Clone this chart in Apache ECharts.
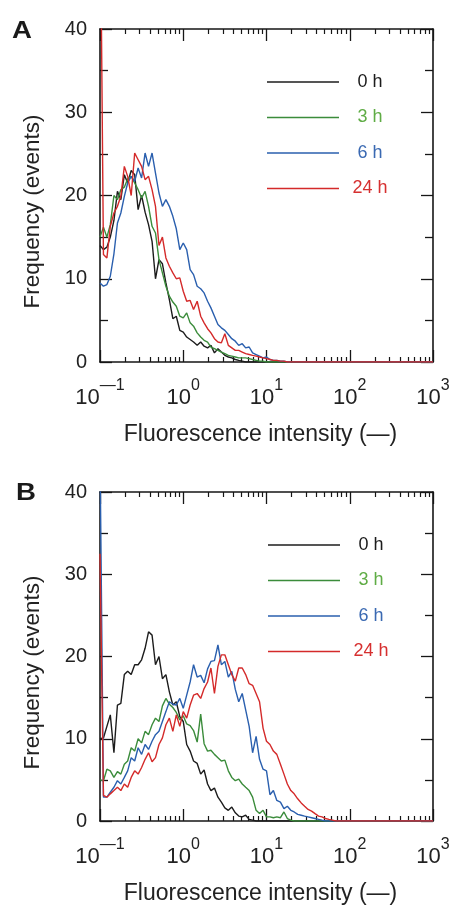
<!DOCTYPE html>
<html><head><meta charset="utf-8">
<script src="https://cdn.jsdelivr.net/npm/echarts@6/dist/echarts.min.js"></script>
<style>html,body{margin:0;padding:0;background:#fff}#c{width:453px;height:906px}</style>
</head><body><div id="c"></div>
<script>
// Bin centres (fluorescence intensity), shared by all histograms
const channels = [
  0.1, 0.110, 0.121, 0.133, 0.147, 0.162, 0.178, 0.196, 0.215, 0.237, 0.261, 0.287,
  0.316, 0.348, 0.383, 0.422, 0.464, 0.511, 0.562, 0.619, 0.681, 0.750, 0.825, 0.909,
  1, 1.10, 1.21, 1.33, 1.47, 1.62, 1.78, 1.96, 2.15, 2.37, 2.61, 2.87,
  3.16, 3.48, 3.83, 4.22, 4.64, 5.11, 5.62, 6.19, 6.81, 7.50, 8.25, 9.09,
  10, 11.0, 12.1, 13.3, 14.7, 16.2, 17.8, 19.6, 21.5, 23.7, 26.1, 28.7,
  31.6, 34.8, 38.3, 42.2, 46.4, 51.1, 56.2, 61.9, 68.1, 75.0, 82.5, 90.9,
  100, 1000
];
const seriesNames = ['0 h', '3 h', '6 h', '24 h'];
const lineColors = ['#1c1c1c', '#3b8c3b', '#2a5fae', '#d42a2a'];
const labelColors = ['#1c1c1c', '#5fac45', '#3a69b2', '#d63030'];
const panelLetters = ['A', 'B'];
const xTickExponents = [-1, 0, 1, 2, 3];
const yTicks = [0, 10, 20, 30, 40];
const xAxisTitle = 'Fluorescence intensity (—)';
const yAxisTitle = 'Frequency (events)';

// Panel A
const a0h = [14, 13.5, 13.8, 15, 17, 20.5, 19.5, 22.5, 21.5, 23, 22.5, 18.3,
  20, 18, 16.5, 14.5, 10, 12.3, 11.8, 9.5, 7.5, 5.2, 5.5, 3.8,
  3.6, 3.0, 2.7, 2.4, 2.0, 2.4, 1.9, 1.7, 2.0, 1.1, 1.6, 1.2,
  0.8, 0.6, 0.5, 0.3, 0.2, 0.1, 0, 0, 0, 0, 0, 0,
  0, 0, 0, 0, 0, 0, 0, 0, 0, 0, 0, 0,
  0, 0, 0, 0, 0, 0, 0, 0, 0, 0, 0, 0,
  0, 0];
const a3h = [15, 16.2, 15, 16.5, 20, 19.5, 20.7, 21, 22, 22.3, 21.5, 20.7,
  19.7, 20.5, 18.7, 16.3, 15.5, 12.3, 10.7, 9.1, 7.9, 7.2, 6.7, 5.5,
  5.3, 5.9, 4.7, 4.3, 3.5, 3.0, 2.6, 2.4, 1.8, 1.6, 1.4, 1.2,
  1.0, 0.8, 0.7, 0.6, 0.5, 0.5, 0.5, 0.4, 0.3, 0.2, 0.1, 0.1,
  0, 0, 0, 0, 0, 0, 0, 0, 0, 0, 0, 0,
  0, 0, 0, 0, 0, 0, 0, 0, 0, 0, 0, 0,
  0, 0];
const a6h = [9.5, 9.1, 9.3, 10.3, 13, 16.7, 17.9, 19.9, 21.5, 22.3, 21.7, 23.3,
  22.1, 25.1, 23.5, 25.1, 22.7, 20.3, 18.7, 19.5, 18.7, 17.5, 16, 13.5,
  14.3, 13.5, 11.1, 10.5, 9.1, 8.8, 8.3, 7.3, 6.5, 5.5, 4.5, 4.1,
  3.8, 3.3, 2.8, 2.5, 2.0, 2.2, 1.7, 1.8, 1.1, 0.9, 0.7, 0.5,
  0.6, 0.3, 0.2, 0.2, 0.1, 0.1, 0, 0, 0, 0, 0, 0,
  0, 0, 0, 0, 0, 0, 0, 0, 0, 0, 0, 0,
  0, 0];
const a24h = [60, 12.9, 12.5, 16.3, 17.9, 18.7, 19.9, 23.5, 22.3, 20, 25.1, 24.3,
  23.5, 21.9, 22.3, 20.7, 18.7, 14, 15, 12.5, 11.5, 10.7, 10, 10.1,
  8.5, 7.3, 7.4, 6.3, 7.3, 5.5, 4.7, 4.0, 3.5, 2.8, 2.4, 2.3,
  3.4, 2.0, 1.7, 1.4, 1.4, 1.2, 1.0, 0.9, 0.8, 0.7, 0.6, 0.5,
  0.4, 0.3, 0.2, 0.2, 0.1, 0.1, 0, 0, 0, 0, 0, 0,
  0, 0, 0, 0, 0, 0, 0, 0, 0, 0, 0, 0,
  0, 0];

// Panel B
const b0h = [10, 10.1, 11.5, 12.9, 8.3, 14.1, 14.3, 17.8, 18.2, 17.8, 19, 19,
  19.6, 21, 23, 22.6, 19, 20, 17.3, 17.8, 15.7, 14.1, 14.5, 12.7,
  12.1, 9.3, 8.5, 7.3, 7, 5.7, 6.2, 4.5, 3.7, 4.0, 2.9, 2.3,
  1.6, 1.3, 1.7, 1.0, 0.6, 0.5, 0.7, 0.2, 0.1, 0, 0, 0,
  0, 0, 0, 0, 0, 0, 0, 0, 0, 0, 0, 0,
  0, 0, 0, 0, 0, 0, 0, 0, 0, 0, 0, 0,
  0, 0];
const b3h = [5, 4.9, 6.3, 6.1, 5.3, 6, 5.7, 6.9, 7.3, 8.9, 8.5, 10,
  9.5, 10.9, 10.5, 11.7, 12.5, 12.1, 14, 14.9, 14.2, 13.8, 13.2, 12.3,
  12.8, 11.8, 11.6, 11, 9.6, 13.0, 9.4, 8.5, 8.6, 8.1, 7.7, 7.3,
  7.4, 6.1, 5.3, 4.9, 5.1, 4.5, 4.1, 3.7, 2.9, 1.3, 0.9, 1.3,
  0.5, 0.5, 0.4, 0.5, 0.4, 1.1, 0.3, 0.1, 0, 0, 0, 0,
  0, 0, 0, 0, 0, 0, 0, 0, 0, 0, 0, 0,
  0, 0];
const b6h = [45, 2.9, 2.9, 3.5, 4.1, 4.9, 4.5, 5.3, 6.1, 7.7, 7.3, 8.9,
  8.1, 9.3, 8.7, 9.7, 10.5, 10.9, 12.1, 13.3, 14.5, 14.2, 14.1, 14.9,
  13.7, 15.3, 16.9, 19, 17.5, 17.7, 16.8, 18.5, 19.4, 19.5, 21.4, 19,
  19.4, 17.5, 18.2, 16, 14.5, 15.5, 13.5, 11.5, 8.3, 10.3, 7.5, 6.3,
  6.1, 3.2, 3.7, 2.5, 2.3, 1.5, 1.8, 1.3, 1.1, 0.8, 0.7, 0.6,
  0.5, 0.4, 0.3, 0.2, 0.1, 0, 0, 0, 0, 0, 0, 0,
  0, 0];
const b24h = [32.5, 3.1, 2.9, 3.3, 3.7, 4.1, 3.7, 4.5, 4.1, 5.3, 6.1, 5.7,
  6.5, 7.5, 8.3, 7.2, 7.7, 9.3, 10.1, 11.7, 12.5, 10.9, 12.9, 11.5,
  13.3, 12.5, 14.1, 15.3, 15.5, 14.9, 16.1, 16.9, 18.6, 15.5, 18.8, 20.2,
  20.2, 19, 17.8, 17, 18.6, 18.6, 17.8, 16.7, 16.5, 15.5, 14.5, 11.3,
  9.7, 9.3, 8.5, 8.1, 6.9, 5.7, 4.5, 3.7, 3.3, 2.7, 2.2, 1.8,
  1.4, 1.2, 0.9, 0.6, 0.5, 0.3, 0.2, 0.1, 0, 0, 0, 0,
  0, 0];

const panels = [[a0h, a3h, a6h, a24h], [b0h, b3h, b6h, b24h]];

const FONT = '"Liberation Sans", Arial, Helvetica, sans-serif';
const AX = '#161616';
const grids = [
  { left: 100, top: 29, width: 333, height: 333 },
  { left: 100, top: 492, width: 333, height: 332 }
];
const legendPos = [{ left: 267, top: 73 }, { left: 268, top: 536 }];
const letterPos = [{ x: 12, y: 20 }, { x: 16, y: 482 }];

// minor tick positions on the log axis (log10 space)
const minorVals = [];
for (let e = -1; e < 3; e++) for (let m = 2; m <= 9; m++) minorVals.push(Math.log10(m) + e);

const xAxes = [], yAxes = [], series = [], legends = [], graphics = [];
panels.forEach((panel, g) => {
  const base = { type: 'value', gridIndex: g, min: -1, max: 3, interval: 1, splitLine: { show: false } };
  xAxes.push(Object.assign({}, base, {
    position: 'bottom',
    axisLine: { show: true, onZero: false, lineStyle: { color: AX, width: 1.6 } },
    axisTick: { show: true, inside: true, length: 12, lineStyle: { color: AX, width: 1.3 } },
    axisLabel: {
      margin: 16, color: '#222', fontFamily: FONT,
      formatter: v => { const e = Math.round(v); return '{b|10}{s|' + (e < 0 ? '—' + (-e) : e) + '}'; },
      rich: {
        b: { fontSize: 22, fontFamily: FONT, color: '#222', padding: [9, 0, 0, 0] },
        s: { fontSize: 16, fontFamily: FONT, color: '#222', verticalAlign: 'top' }
      }
    },
    name: xAxisTitle, nameLocation: 'middle', nameGap: 61,
    nameTextStyle: { fontSize: 23, fontFamily: FONT, color: '#222', padding: [0, 12, 0, 0] }
  }));
  xAxes.push(Object.assign({}, base, {
    position: 'bottom', axisLine: { show: false, onZero: false }, axisLabel: { show: false },
    axisTick: { show: true, inside: true, length: 5, customValues: minorVals, lineStyle: { color: AX, width: 1.2 } }
  }));
  xAxes.push(Object.assign({}, base, {
    position: 'top', axisLine: { show: true, onZero: false, lineStyle: { color: AX, width: 1.6 } }, axisLabel: { show: false },
    axisTick: { show: true, inside: true, length: 12, lineStyle: { color: AX, width: 1.3 } }
  }));
  xAxes.push(Object.assign({}, base, {
    position: 'top', axisLine: { show: false, onZero: false }, axisLabel: { show: false },
    axisTick: { show: true, inside: true, length: 5, customValues: minorVals, lineStyle: { color: AX, width: 1.2 } }
  }));
  const ybase = {
    type: 'value', gridIndex: g, min: yTicks[0], max: yTicks[yTicks.length - 1], interval: 10,
    splitLine: { show: false }, minorSplitLine: { show: false },
    axisLine: { show: true, onZero: false, lineStyle: { color: AX, width: 1.6 } },
    axisTick: { show: true, inside: true, length: 12, lineStyle: { color: AX, width: 1.3 } },
    minorTick: { show: true, splitNumber: 2, length: 8, lineStyle: { color: AX, width: 1.3 } }
  };
  yAxes.push(Object.assign({}, ybase, {
    position: 'left',
    axisLabel: { margin: 13, fontSize: 20, color: '#222', fontFamily: FONT },
    name: yAxisTitle, nameLocation: 'middle', nameGap: 56, nameRotate: 90,
    nameTextStyle: { fontSize: 22.5, fontFamily: FONT, color: '#222', padding: [0, 32, 0, 0] }
  }));
  yAxes.push(Object.assign({}, ybase, { position: 'right', axisLabel: { show: false } }));

  panel.forEach((vals, i) => {
    series.push({
      name: seriesNames[i], type: 'line', xAxisIndex: 4 * g, yAxisIndex: 2 * g,
      data: channels.map((c, k) => [Math.log10(c), vals[k]]),
      symbol: 'none', showSymbol: false, clip: true, animation: false,
      lineStyle: { color: lineColors[i], width: 1.4 }, itemStyle: { color: lineColors[i] }, z: 2 + i
    });
  });

  legends.push({
    orient: 'vertical', left: legendPos[g].left, top: legendPos[g].top, padding: 0,
    icon: 'rect', itemWidth: 72, itemHeight: 1.6, itemGap: 17.5, selectedMode: false,
    data: seriesNames.map((n, i) => ({ name: n, textStyle: { color: labelColors[i] } })),
    formatter: '{t|{name}}',
    textStyle: { fontSize: 18, fontFamily: FONT, rich: { t: { width: 52, height: 18, lineHeight: 18, align: 'center', fontSize: 18, fontFamily: FONT } } }
  });

  graphics.push({
    type: 'text', x: letterPos[g].x, y: letterPos[g].y, scaleX: 1.2,
    style: { text: panelLetters[g], font: '900 23px ' + FONT, fill: '#1a1a1a' }
  });
});

const chart = echarts.init(document.getElementById('c'), null, { renderer: 'canvas' });
chart.setOption({
  animation: false,
  backgroundColor: '#fff',
  grid: grids,
  xAxis: xAxes,
  yAxis: yAxes,
  legend: legends,
  series: series,
  graphic: graphics
});
</script></body></html>
